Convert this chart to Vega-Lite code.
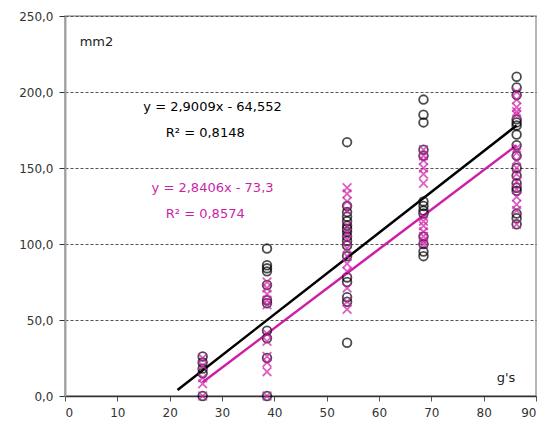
{
  "$schema": "https://vega.github.io/schema/vega-lite/v6.json",
  "width": 471,
  "height": 380,
  "autosize": {"type": "none"},
  "padding": {"left": 65, "top": 16, "right": 11, "bottom": 34},
  "background": "white",
  "config": {
    "font": "DejaVu Sans",
    "view": {"stroke": "#a0a0a0", "strokeWidth": 1.5}
  },
  "datasets": {
    "pts": [
      {"x": 26.3, "y": 26, "s": "A"}, {"x": 26.3, "y": 22, "s": "A"}, {"x": 26.3, "y": 18, "s": "A"}, {"x": 26.3, "y": 15, "s": "A"}, {"x": 26.3, "y": 0, "s": "A"},
      {"x": 26.3, "y": 25, "s": "B"}, {"x": 26.3, "y": 20, "s": "B"}, {"x": 26.3, "y": 12, "s": "B"}, {"x": 26.3, "y": 8, "s": "B"}, {"x": 26.3, "y": 0, "s": "B"},
      {"x": 38.6, "y": 97, "s": "A"}, {"x": 38.6, "y": 86, "s": "A"}, {"x": 38.6, "y": 84, "s": "A"}, {"x": 38.6, "y": 82, "s": "A"}, {"x": 38.6, "y": 73, "s": "A"}, {"x": 38.6, "y": 63, "s": "A"}, {"x": 38.6, "y": 61, "s": "A"}, {"x": 38.6, "y": 43, "s": "A"}, {"x": 38.6, "y": 38, "s": "A"}, {"x": 38.6, "y": 25, "s": "A"}, {"x": 38.6, "y": 0, "s": "A"},
      {"x": 38.6, "y": 75, "s": "B"}, {"x": 38.6, "y": 71, "s": "B"}, {"x": 38.6, "y": 67, "s": "B"}, {"x": 38.6, "y": 63, "s": "B"}, {"x": 38.6, "y": 60, "s": "B"}, {"x": 38.6, "y": 41, "s": "B"}, {"x": 38.6, "y": 36, "s": "B"}, {"x": 38.6, "y": 26, "s": "B"}, {"x": 38.6, "y": 22, "s": "B"}, {"x": 38.6, "y": 16, "s": "B"}, {"x": 38.6, "y": 0, "s": "B"},
      {"x": 53.9, "y": 167, "s": "A"}, {"x": 53.9, "y": 125, "s": "A"}, {"x": 53.9, "y": 121, "s": "A"}, {"x": 53.9, "y": 118, "s": "A"}, {"x": 53.9, "y": 115, "s": "A"}, {"x": 53.9, "y": 112, "s": "A"}, {"x": 53.9, "y": 110, "s": "A"}, {"x": 53.9, "y": 108, "s": "A"}, {"x": 53.9, "y": 105, "s": "A"}, {"x": 53.9, "y": 102, "s": "A"}, {"x": 53.9, "y": 99, "s": "A"}, {"x": 53.9, "y": 92, "s": "A"}, {"x": 53.9, "y": 78, "s": "A"}, {"x": 53.9, "y": 75, "s": "A"}, {"x": 53.9, "y": 65, "s": "A"}, {"x": 53.9, "y": 62, "s": "A"}, {"x": 53.9, "y": 35, "s": "A"},
      {"x": 53.9, "y": 137, "s": "B"}, {"x": 53.9, "y": 133, "s": "B"}, {"x": 53.9, "y": 128, "s": "B"}, {"x": 53.9, "y": 122, "s": "B"}, {"x": 53.9, "y": 112, "s": "B"}, {"x": 53.9, "y": 107, "s": "B"}, {"x": 53.9, "y": 103, "s": "B"}, {"x": 53.9, "y": 97, "s": "B"}, {"x": 53.9, "y": 92, "s": "B"}, {"x": 53.9, "y": 87, "s": "B"}, {"x": 53.9, "y": 82, "s": "B"}, {"x": 53.9, "y": 71, "s": "B"}, {"x": 53.9, "y": 62, "s": "B"}, {"x": 53.9, "y": 57, "s": "B"},
      {"x": 68.5, "y": 195, "s": "A"}, {"x": 68.5, "y": 185, "s": "A"}, {"x": 68.5, "y": 180, "s": "A"}, {"x": 68.5, "y": 162, "s": "A"}, {"x": 68.5, "y": 158, "s": "A"}, {"x": 68.5, "y": 128, "s": "A"}, {"x": 68.5, "y": 125, "s": "A"}, {"x": 68.5, "y": 122, "s": "A"}, {"x": 68.5, "y": 120, "s": "A"}, {"x": 68.5, "y": 105, "s": "A"}, {"x": 68.5, "y": 100, "s": "A"}, {"x": 68.5, "y": 95, "s": "A"}, {"x": 68.5, "y": 92, "s": "A"},
      {"x": 68.5, "y": 162, "s": "B"}, {"x": 68.5, "y": 158, "s": "B"}, {"x": 68.5, "y": 155, "s": "B"}, {"x": 68.5, "y": 150, "s": "B"}, {"x": 68.5, "y": 146, "s": "B"}, {"x": 68.5, "y": 140, "s": "B"}, {"x": 68.5, "y": 118, "s": "B"}, {"x": 68.5, "y": 115, "s": "B"}, {"x": 68.5, "y": 112, "s": "B"}, {"x": 68.5, "y": 108, "s": "B"}, {"x": 68.5, "y": 105, "s": "B"}, {"x": 68.5, "y": 102, "s": "B"}, {"x": 68.5, "y": 100, "s": "B"},
      {"x": 86.3, "y": 210, "s": "A"}, {"x": 86.3, "y": 203, "s": "A"}, {"x": 86.3, "y": 198, "s": "A"}, {"x": 86.3, "y": 182, "s": "A"}, {"x": 86.3, "y": 180, "s": "A"}, {"x": 86.3, "y": 178, "s": "A"}, {"x": 86.3, "y": 172, "s": "A"}, {"x": 86.3, "y": 165, "s": "A"}, {"x": 86.3, "y": 158, "s": "A"}, {"x": 86.3, "y": 150, "s": "A"}, {"x": 86.3, "y": 145, "s": "A"}, {"x": 86.3, "y": 140, "s": "A"}, {"x": 86.3, "y": 137, "s": "A"}, {"x": 86.3, "y": 135, "s": "A"}, {"x": 86.3, "y": 120, "s": "A"}, {"x": 86.3, "y": 117, "s": "A"}, {"x": 86.3, "y": 113, "s": "A"},
      {"x": 86.3, "y": 200, "s": "B"}, {"x": 86.3, "y": 195, "s": "B"}, {"x": 86.3, "y": 190, "s": "B"}, {"x": 86.3, "y": 187, "s": "B"}, {"x": 86.3, "y": 185, "s": "B"}, {"x": 86.3, "y": 163, "s": "B"}, {"x": 86.3, "y": 160, "s": "B"}, {"x": 86.3, "y": 155, "s": "B"}, {"x": 86.3, "y": 150, "s": "B"}, {"x": 86.3, "y": 146, "s": "B"}, {"x": 86.3, "y": 141, "s": "B"}, {"x": 86.3, "y": 136, "s": "B"}, {"x": 86.3, "y": 131, "s": "B"}, {"x": 86.3, "y": 126, "s": "B"}, {"x": 86.3, "y": 122, "s": "B"}, {"x": 86.3, "y": 113, "s": "B"}
    ],
    "lines": [
      {"x": 21.5, "y": 4, "s": "A"}, {"x": 86.3, "y": 178, "s": "A"},
      {"x": 26.3, "y": 9, "s": "B"}, {"x": 86.3, "y": 165, "s": "B"}
    ],
    "eq": [
      {"x": 28.2, "y": 190, "s": "A", "t": "y = 2,9009x - 64,552"},
      {"x": 26.8, "y": 173, "s": "A", "t": "R² = 0,8148"},
      {"x": 28.2, "y": 137, "s": "B", "t": "y = 2,8406x - 73,3"},
      {"x": 26.8, "y": 120, "s": "B", "t": "R² = 0,8574"}
    ],
    "lab": [
      {"x": 2.8, "y": 233, "t": "mm2"},
      {"x": 82.5, "y": 12, "t": "g's"}
    ]
  },
  "layer": [
    {
      "data": {"name": "lines"},
      "mark": {"type": "line", "strokeWidth": 2.5},
      "encoding": {
        "x": {"field": "x", "type": "quantitative", "scale": {"domain": [0, 90], "nice": false},
              "axis": {"title": null, "values": [0,10,20,30,40,50,60,70,80,90], "domainColor": "#333", "domainWidth": 1.5, "tickColor": "#555", "tickSize": 5, "grid": false, "labelFontSize": 12, "labelColor": "#333", "labelPadding": 6}},
        "y": {"field": "y", "type": "quantitative", "scale": {"domain": [0, 250], "nice": false},
              "axis": {"title": null, "values": [0,50,100,150,200,250], "labelExpr": "replace(format(datum.value, '.1f'), '.', ',')", "domainColor": "#a0a0a0", "domainWidth": 2, "tickColor": "#333", "tickSize": 6, "grid": true, "gridDash": [3, 2], "gridColor": "#555", "gridWidth": 1, "labelFontSize": 12, "labelColor": "#333", "labelPadding": 6}},
        "color": {"field": "s", "type": "nominal", "scale": {"domain": ["A", "B"], "range": ["#000000", "#cc1fa8"]}, "legend": null},
        "detail": {"field": "s"}
      }
    },
    {
      "data": {"name": "pts"},
      "mark": {"type": "point", "filled": false, "strokeWidth": 1.8},
      "encoding": {
        "x": {"field": "x", "type": "quantitative"},
        "y": {"field": "y", "type": "quantitative"},
        "color": {"field": "s", "type": "nominal", "legend": null},
        "shape": {"field": "s", "type": "nominal", "scale": {"domain": ["A", "B"], "range": ["circle", "M-1,-1L1,1M-1,1L1,-1"]}, "legend": null},
        "size": {"value": 75}
      }
    },
    {
      "data": {"name": "eq"},
      "mark": {"type": "text", "fontSize": 13, "align": "center", "baseline": "middle"},
      "encoding": {
        "x": {"field": "x", "type": "quantitative"},
        "y": {"field": "y", "type": "quantitative"},
        "text": {"field": "t"},
        "color": {"field": "s", "type": "nominal", "legend": null}
      }
    },
    {
      "data": {"name": "lab"},
      "mark": {"type": "text", "fontSize": 13, "align": "left", "baseline": "middle", "color": "#222"},
      "encoding": {
        "x": {"field": "x", "type": "quantitative"},
        "y": {"field": "y", "type": "quantitative"},
        "text": {"field": "t"}
      }
    }
  ]
}
